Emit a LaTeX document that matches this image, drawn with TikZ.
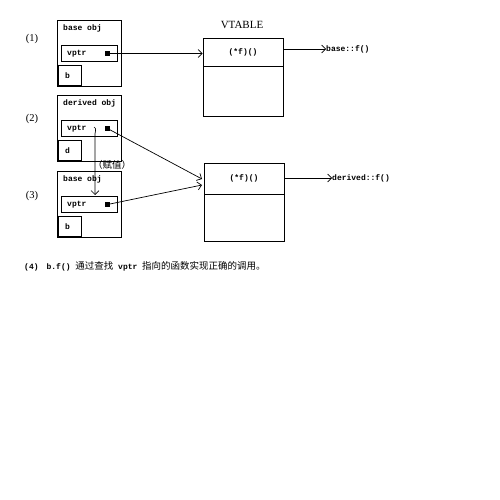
\documentclass[tikz,border=0pt]{standalone}
\usepackage{fontspec}
\setmainfont{Liberation Serif}
\setmonofont{Liberation Mono}
\newfontfamily\cjk{Noto Sans CJK SC}
\usetikzlibrary{arrows.meta}
\begin{document}
\begin{tikzpicture}[x=1pt,y=-1pt,
  box/.style={draw,line width=0.8pt,rectangle,inner sep=0pt},
  code/.style={font=\ttfamily\bfseries\fontsize{8}{10}\selectfont,inner sep=0pt},
  lbl/.style={font=\fontsize{10.5}{12}\selectfont,inner sep=0pt},
  sq/.style={fill=black,minimum size=4.5pt,inner sep=0pt},
  arr/.style={line width=0.7pt,-{Straight Barb[length=4pt,width=8pt,line width=0.7pt]}}]
\useasboundingbox (0,0) rectangle (500,500);
% object boxes
\foreach \n/\cy/\title/\mem in {o1/53/base obj/b, o2/128/derived obj/d, o3/204/base obj/b}{
  \node[box,minimum width=64pt,minimum height=66pt] (\n) at (89,\cy) {};
  \node[code,anchor=west] (\n t) at (63,\cy-25) {\title};
  \node[box,minimum width=56pt,minimum height=15.5pt] (\n v) at (89,\cy+0.5) {};
  \node[code,anchor=west] (\n vt) at (67,\cy+0.5) {vptr};
  \node[sq] (\n s) at (107.5,\cy+0.5) {};
  \node[box,minimum width=23pt,minimum height=21pt] (\n m) at (69.5,\cy+22.5) {};
  \node[code,anchor=west] (\n mt) at (65,\cy+22.5) {\mem};
  \draw[line width=1.8pt] ([xshift=0.5pt]\n m.north west) -- ([xshift=0.5pt,yshift=0.5pt]\n m.south west) -- ([yshift=0.5pt]\n m.south east);
}
\node[lbl] (l1) at (32,39) {(1)};
\node[lbl] (l2) at (32,119) {(2)};
\node[lbl] (l3) at (32,196) {(3)};
% vtables
\node[box,minimum width=80pt,minimum height=78pt] (vt1) at (243,77) {};
\draw[line width=0.8pt] (203,66) -- (283,66);
\node[code] (f1) at (243,52) {(*f)()};
\node[font=\fontsize{11}{12}\selectfont,inner sep=0pt] (vtl) at (242,25) {VTABLE};
\node[box,minimum width=80pt,minimum height=78pt] (vt2) at (244,202) {};
\draw[line width=0.8pt] (204,194) -- (284,194);
\node[code] (f2) at (244,178) {(*f)()};
% targets
\node[code,anchor=west] (bf) at (326,49) {base::f()};
\node[code,anchor=west] (df) at (332,178) {derived::f()};
% arrows
\draw[arr] (o1s.center) -- (vt1.west |- o1s.center);
\draw[arr] (vt1.east |- bf.west) -- (bf.west);
\draw[arr] (vt2.east |- df.west) -- (df.west);
\draw[arr] (o2s.center) -- (202,179);
\draw[arr] (o3s.center) -- (202,185);
\coordinate (c1) at (94,127);
\draw[arr] (c1) .. controls (96,128) .. (95,134) -- (95,195);
\node[font=\cjk\fontsize{9.5}{10}\selectfont,inner sep=0pt] (asg) at (112,165) {（赋值）};
% bottom text
\node[anchor=west,inner sep=0pt] (s4) at (24,266) {\fontsize{8}{10}\selectfont\ttfamily\bfseries (4)\hspace{8pt}b.f() {\cjk\mdseries\fontsize{9.5}{10}\selectfont 通过查找} vptr {\cjk\mdseries\fontsize{9.5}{10}\selectfont 指向的函数实现正确的调用。}};
\end{tikzpicture}
\end{document}
